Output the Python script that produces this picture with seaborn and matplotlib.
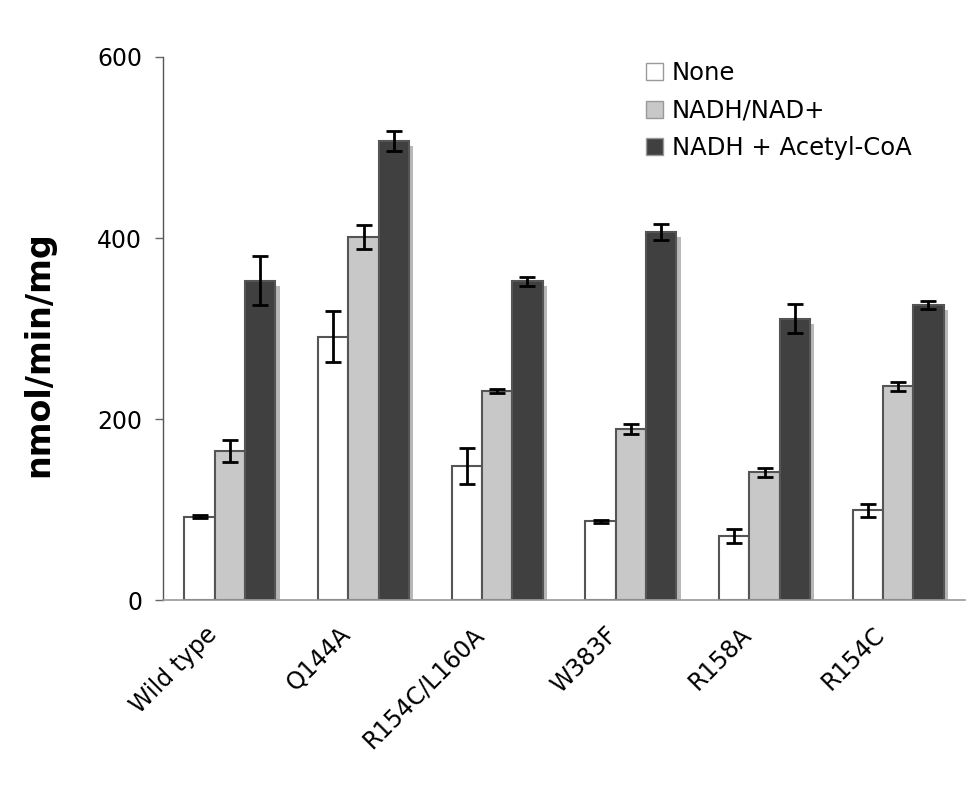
import numpy as np
import pandas as pd
import matplotlib
matplotlib.use("Agg")
import matplotlib.pyplot as plt
import matplotlib.patheffects as pe
from matplotlib.patches import Patch
from matplotlib.transforms import ScaledTranslation
import seaborn as sns

mutants = ["Wild type", "Q144A", "R154C/L160A", "W383F", "R158A", "R154C"]
conditions = ["None", "NADH/NAD+", "NADH + Acetyl-CoA"]
none_vals = [92, 291, 148, 87, 71, 99]
none_err = [1.5, 28, 20, 1.5, 7.5, 7]
nadh_vals = [165, 401, 231, 189, 141, 236]
nadh_err = [12, 13, 2, 6, 5, 5]
acoa_vals = [353, 507, 352, 407, 311, 326]
acoa_err = [27, 11, 5, 9, 16, 4]
colors = ["#ffffff", "#c8c8c8", "#404040"]

sns.set_theme(style="ticks")
plt.rcParams['font.family'] = ['DejaVu Sans']
plt.rcParams['text.color'] = 'black'
plt.rcParams['axes.labelcolor'] = 'black'

rows = []
for cond, vals, errs in zip(conditions, [none_vals, nadh_vals, acoa_vals],
                            [none_err, nadh_err, acoa_err]):
    for m, v, e in zip(mutants, vals, errs):
        rows.append({"Mutant": m, "Condition": cond, "Rate": v, "Err": e})
df = pd.DataFrame(rows)

fig = plt.figure(figsize=(9.71, 7.85), dpi=100)
ax = fig.add_axes([163/971, 1-600/785, (965-163)/971, (600-57)/785])

sns.barplot(data=df, x="Mutant", y="Rate", hue="Condition", order=mutants,
            hue_order=conditions, palette=colors, errorbar=None, width=0.68,
            gap=0, edgecolor="#555555", linewidth=1.5, ax=ax, legend=False,
            saturation=1)

# error bars & shadows from the bar patches
bars = [p for p in ax.patches]
n = len(mutants)
for i, cond in enumerate(conditions):
    sub = df[df.Condition == cond].set_index("Mutant").loc[mutants]
    for j in range(n):
        p = bars[i * n + j]
        p.set_path_effects([pe.SimplePatchShadow(offset=(3.2, -3.6),
                                                 shadow_rgbFace="#b8b8b8",
                                                 alpha=1.0),
                            pe.Normal()])
        cx = p.get_x() + p.get_width() / 2
        ax.errorbar(cx, sub["Rate"].iloc[j], yerr=sub["Err"].iloc[j],
                    fmt="none", ecolor="black", elinewidth=2, capsize=6,
                    capthick=2, zorder=5)

ax.set_xlim(-0.5, 5.5)
ax.set_ylim(0, 600)
ax.set_yticks([0, 200, 400, 600])
ax.set_xlabel("")
ax.set_ylabel("nmol/min/mg", fontsize=24, fontweight="bold", labelpad=30)
ax.yaxis.label.set_y(0.452)
ax.tick_params(axis="y", length=6, width=1, color="#666666", pad=9,
               labelsize=17, labelcolor="black")
ax.tick_params(axis="x", length=0, pad=0, labelsize=17, labelcolor="black")
offset = ScaledTranslation(-0.17, -0.31, fig.dpi_scale_trans)
for lab in ax.get_xticklabels():
    lab.set_rotation(45)
    lab.set_ha("right")
    lab.set_va("center")
    lab.set_rotation_mode("anchor")
    lab.set_transform(lab.get_transform() + offset)
sns.despine(ax=ax)
ax.spines["left"].set_color("#555555")
ax.spines["bottom"].set_color("#999999")
ax.spines["left"].set_linewidth(1)
ax.spines["bottom"].set_linewidth(1.2)

handles = [Patch(facecolor=c, edgecolor="#999999", linewidth=1) for c in colors]
fig.legend(handles, conditions, loc="upper left",
           bbox_to_anchor=(646/971, 1-61/785), bbox_transform=fig.transFigure,
           frameon=False, fontsize=17.5, handlelength=0.7, handleheight=0.7,
           handletextpad=0.37, labelspacing=0.56, borderpad=0, borderaxespad=0)

fig.savefig("out.png", dpi=100)
